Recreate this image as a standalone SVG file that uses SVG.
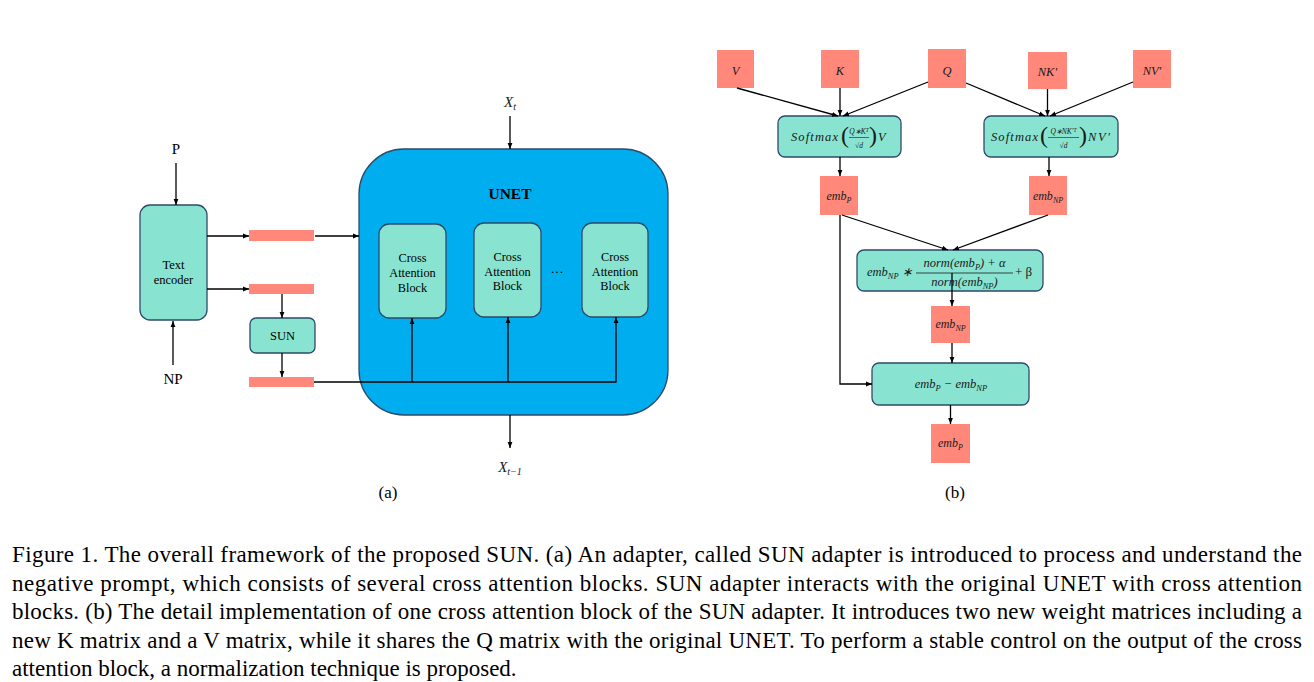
<svg xmlns="http://www.w3.org/2000/svg" width="1314" height="682" viewBox="0 0 1314 682">
<defs>
<marker id="ah" viewBox="0 0 10 10" refX="10" refY="5" markerWidth="6" markerHeight="6" orient="auto" markerUnits="userSpaceOnUse">
<path d="M0,1 L10,5 L0,9 Z" fill="#000"/>
</marker>
<style>
.tm{font-family:"Liberation Serif","Times New Roman",serif;fill:#000}
.mi{font-family:"Liberation Serif","Times New Roman",serif;font-style:italic;fill:#1a1a1a}
.up{font-family:"Liberation Serif","Times New Roman",serif;fill:#1a1a1a}
.teal{fill:#88E4D0;stroke:#2E4A6A;stroke-width:1.3}
.sal{fill:#FF887A}
.unet{fill:#00AEEF;stroke:#2E4A6A;stroke-width:1.3}
.ln{stroke:#000;stroke-width:1.3;fill:none}
.ar{stroke:#000;stroke-width:1.3;fill:none;marker-end:url(#ah)}
.cap{font-family:"Liberation Serif","Times New Roman",serif;font-size:23px;fill:#000}
</style>
</defs>
<rect width="1314" height="682" fill="#fff"/>

<!-- (a) -->
<g id="label-P"><text class="tm" x="176" y="154" font-size="15" text-anchor="middle">P</text></g>
<g id="label-NP"><text class="tm" x="173" y="384" font-size="15" text-anchor="middle">NP</text></g>
<g id="text-encoder">
<rect class="teal" x="140" y="205" width="67" height="115" rx="10"/>
<text class="tm" x="173.5" y="269" font-size="12.5" text-anchor="middle">Text</text>
<text class="tm" x="173.5" y="284" font-size="12.5" text-anchor="middle">encoder</text>
</g>
<g id="emb-bar-1"><rect class="sal" x="249" y="230" width="65" height="11"/></g>
<g id="emb-bar-2"><rect class="sal" x="249" y="284" width="65" height="10"/></g>
<g id="sun">
<rect class="teal" x="250" y="318" width="65" height="35" rx="6"/>
<text class="tm" x="282.5" y="340" font-size="12.5" text-anchor="middle">SUN</text>
</g>
<g id="emb-bar-3"><rect class="sal" x="249" y="377" width="65" height="10"/></g>
<g id="unet">
<rect class="unet" x="359" y="149" width="309" height="266" rx="45"/>
<text class="tm" x="510" y="199" font-size="15.5" font-weight="bold" text-anchor="middle">UNET</text>
</g>
<g id="cab-1">
<rect class="teal" x="379" y="224" width="67" height="94" rx="10"/>
<text class="tm" x="412.5" y="262" font-size="12.3" text-anchor="middle">Cross</text>
<text class="tm" x="412.5" y="277" font-size="12.3" text-anchor="middle">Attention</text>
<text class="tm" x="412.5" y="292" font-size="12.3" text-anchor="middle">Block</text>
</g>
<g id="cab-2">
<rect class="teal" x="474" y="223" width="67" height="94" rx="10"/>
<text class="tm" x="507.5" y="261" font-size="12.3" text-anchor="middle">Cross</text>
<text class="tm" x="507.5" y="276" font-size="12.3" text-anchor="middle">Attention</text>
<text class="tm" x="507.5" y="290" font-size="12.3" text-anchor="middle">Block</text>
</g>
<g id="dots"><text class="tm" x="557" y="276" font-size="13" text-anchor="middle">···</text></g>
<g id="cab-3">
<rect class="teal" x="582" y="223" width="66" height="94" rx="10"/>
<text class="tm" x="615" y="261" font-size="12.3" text-anchor="middle">Cross</text>
<text class="tm" x="615" y="276" font-size="12.3" text-anchor="middle">Attention</text>
<text class="tm" x="615" y="290" font-size="12.3" text-anchor="middle">Block</text>
</g>
<g id="label-xt"><text class="mi" x="510" y="107" font-size="15" text-anchor="middle">X<tspan font-size="10" dy="3">t</tspan></text></g>
<g id="label-xt1"><text class="mi" x="510" y="472" font-size="15" text-anchor="middle">X<tspan font-size="10" dy="3">t−1</tspan></text></g>
<g id="label-a"><text class="tm" x="388" y="498" font-size="17" text-anchor="middle">(a)</text></g>

<!-- (b) -->
<g id="V"><rect class="sal" x="717" y="50" width="37" height="38"/><text class="mi" x="735.5" y="75" font-size="12.5" text-anchor="middle">V</text></g>
<g id="K"><rect class="sal" x="821" y="50" width="38" height="38"/><text class="mi" x="840" y="75" font-size="12.5" text-anchor="middle">K</text></g>
<g id="Q"><rect class="sal" x="928" y="49" width="38" height="39"/><text class="mi" x="947" y="75" font-size="12.5" text-anchor="middle">Q</text></g>
<g id="NK"><rect class="sal" x="1028" y="52" width="39" height="37"/><text class="mi" x="1047.5" y="76" font-size="12.5" text-anchor="middle">NK′</text></g>
<g id="NV"><rect class="sal" x="1133" y="50" width="38" height="38"/><text class="mi" x="1152" y="75" font-size="12.5" text-anchor="middle">NV′</text></g>

<g id="softmax-1">
<rect class="teal" x="778" y="116" width="123" height="41" rx="7"/>
<text class="mi" x="791" y="141" font-size="12.5" textLength="47" lengthAdjust="spacing">Softmax</text>
<text class="up" x="841" y="143" font-size="24">(</text>
<text class="mi" x="859" y="134" font-size="7.5" text-anchor="middle">Q∗K<tspan font-size="5.5" dy="-2.5">T</tspan></text>
<line x1="849" y1="137.5" x2="869" y2="137.5" stroke="#1a1a1a" stroke-width="0.6"/>
<text class="mi" x="859" y="148" font-size="7.5" text-anchor="middle">√d</text>
<text class="up" x="869" y="143" font-size="24">)</text>
<text class="mi" x="878" y="141" font-size="12.5">V</text>
</g>
<g id="softmax-2">
<rect class="teal" x="984" y="116" width="134" height="41" rx="7"/>
<text class="mi" x="991" y="141" font-size="12.5" textLength="47" lengthAdjust="spacing">Softmax</text>
<text class="up" x="1040" y="143" font-size="24">(</text>
<text class="mi" x="1063.5" y="134" font-size="7.5" text-anchor="middle">Q∗NK′<tspan font-size="5.5" dy="-2.5">T</tspan></text>
<line x1="1048" y1="137.5" x2="1079" y2="137.5" stroke="#1a1a1a" stroke-width="0.6"/>
<text class="mi" x="1063.5" y="148" font-size="7.5" text-anchor="middle">√d</text>
<text class="up" x="1079" y="143" font-size="24">)</text>
<text class="mi" x="1088" y="141" font-size="12.5" textLength="22" lengthAdjust="spacing">NV′</text>
</g>

<g id="embP-1"><rect class="sal" x="820" y="176" width="38" height="39"/><text class="mi" x="839" y="200" font-size="12" text-anchor="middle">emb<tspan font-size="8" dy="2.5">P</tspan></text></g>
<g id="embNP-1"><rect class="sal" x="1029" y="176" width="38" height="39"/><text class="mi" x="1048" y="200" font-size="12" text-anchor="middle">emb<tspan font-size="8" dy="2.5">NP</tspan></text></g>

<g id="norm">
<rect class="teal" x="857" y="250" width="186" height="41" rx="7"/>
<text class="mi" x="867" y="276" font-size="12.5">emb<tspan font-size="8.5" dy="2.5">NP</tspan><tspan dy="-2.5"> ∗</tspan></text>
<text class="mi" x="964.5" y="267" font-size="12.5" text-anchor="middle">norm(emb<tspan font-size="8.5" dy="2.5">P</tspan><tspan dy="-2.5">) +  α</tspan></text>
<line x1="916" y1="273" x2="1013" y2="273" stroke="#1a1a1a" stroke-width="0.8"/>
<text class="mi" x="964.5" y="286" font-size="12.5" text-anchor="middle">norm(emb<tspan font-size="8.5" dy="2.5">NP</tspan><tspan dy="-2.5">)</tspan></text>
<text class="up" x="1015" y="276" font-size="13">+ β</text>
</g>

<g id="embNP-2"><rect class="sal" x="931" y="306" width="39" height="37"/><text class="mi" x="950.5" y="328" font-size="12" text-anchor="middle">emb<tspan font-size="8" dy="2.5">NP</tspan></text></g>
<g id="diff">
<rect class="teal" x="872" y="363" width="157" height="42" rx="7"/>
<text class="mi" x="951" y="388" font-size="12.5" text-anchor="middle">emb<tspan font-size="8.5" dy="2.5">P</tspan><tspan dy="-2.5"> − emb</tspan><tspan font-size="8.5" dy="2.5">NP</tspan></text>
</g>
<g id="embP-2"><rect class="sal" x="931" y="424" width="39" height="39"/><text class="mi" x="950.5" y="447" font-size="12" text-anchor="middle">emb<tspan font-size="8" dy="2.5">P</tspan></text></g>
<g id="label-b"><text class="tm" x="955" y="498" font-size="17" text-anchor="middle">(b)</text></g>

<g id="connectors">
<line class="ar" x1="176" y1="163" x2="176" y2="205"/>
<line class="ar" x1="173" y1="365" x2="173" y2="321"/>
<line class="ar" x1="207" y1="236" x2="249" y2="236"/>
<line class="ar" x1="315" y1="236" x2="359" y2="236"/>
<line class="ar" x1="207" y1="289" x2="249" y2="289"/>
<line class="ar" x1="282" y1="294" x2="282" y2="318"/>
<line class="ar" x1="282" y1="353" x2="282" y2="377"/>
<line class="ln" x1="314" y1="382" x2="616" y2="382"/>
<line class="ar" x1="412" y1="382" x2="412" y2="318"/>
<line class="ar" x1="508" y1="382" x2="508" y2="317"/>
<line class="ar" x1="616" y1="382.6" x2="616" y2="317"/>
<line class="ar" x1="510" y1="116" x2="510" y2="149"/>
<line class="ar" x1="510" y1="415" x2="510" y2="448"/>

<line class="ar" x1="737" y1="88" x2="838" y2="116"/>
<line class="ar" x1="840" y1="88" x2="840" y2="116"/>
<line class="ar" x1="928" y1="82" x2="843" y2="116"/>
<line class="ar" x1="966" y1="83" x2="1045" y2="116"/>
<line class="ar" x1="1047.5" y1="89" x2="1047.5" y2="116"/>
<line class="ar" x1="1133" y1="82" x2="1050" y2="116"/>
<line class="ar" x1="840" y1="157" x2="840" y2="176"/>
<line class="ar" x1="1049" y1="157" x2="1049" y2="176"/>
<line class="ar" x1="842" y1="215" x2="948" y2="250"/>
<line class="ar" x1="1048" y1="215" x2="953" y2="250"/>
<polyline class="ar" points="840,215 840,384 872,384"/>
<line class="ar" x1="952" y1="273" x2="952" y2="306"/>
<line class="ar" x1="952" y1="343" x2="952" y2="363"/>
<line class="ar" x1="950.5" y1="405" x2="950.5" y2="424"/>
</g>

<g id="caption">
<text class="cap" x="12" y="562" textLength="1290" lengthAdjust="spacing">Figure 1.  The overall framework of the proposed SUN. (a) An adapter, called SUN adapter is introduced to process and understand the</text>
<text class="cap" x="12" y="590.5" textLength="1290" lengthAdjust="spacing">negative prompt, which consists of several cross attention blocks.  SUN adapter interacts with the original UNET with cross attention</text>
<text class="cap" x="12" y="619" textLength="1290" lengthAdjust="spacing">blocks. (b) The detail implementation of one cross attention block of the SUN adapter. It introduces two new weight matrices including a</text>
<text class="cap" x="12" y="647.5" textLength="1290" lengthAdjust="spacing">new K matrix and a V matrix, while it shares the Q matrix with the original UNET. To perform a stable control on the output of the cross</text>
<text class="cap" x="12" y="676">attention block, a normalization technique is proposed.</text>
</g>
</svg>
